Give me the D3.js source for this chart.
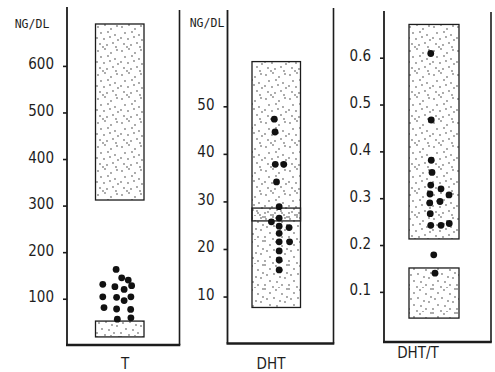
<!DOCTYPE html>
<html>
<head>
<meta charset="utf-8">
<script src="https://cdn.jsdelivr.net/npm/d3@7"></script>
<style>
  html, body { margin: 0; background: #fff; }
  svg text { fill: #1e1e1e; }
</style>
</head>
<body>
<svg id="chart" width="495" height="372"></svg>
<script>
// Testosterone, ng/dl
const tTicks = [100, 200, 300, 400, 500, 600];
const tRanges = [[312, 690], [18, 52]];
const tValues = [163, 145, 140, 131, 128, 126, 120, 104, 103, 104, 96, 81, 78, 77, 56, 59];
const tSpread = [-0.15, 0.08, 0.35, -0.70, 0.49, -0.20, 0.18, -0.70, -0.13, 0.46, 0.18, -0.65, -0.13, 0.45, -0.10, 0.46];

// Dihydrotestosterone, ng/dl
const dhtTicks = [10, 20, 30, 40, 50];
const dhtRanges = [[25.9, 59.4], [7.7, 28.6]];
const dhtValues = [47.3, 44.6, 37.8, 37.8, 34.1, 28.9, 26.5, 25.7, 24.8, 24.5, 23.3, 21.5, 21.5, 19.6, 17.7, 15.6];
const dhtSpread = [-0.08, -0.05, -0.04, 0.31, 0.01, 0.12, 0.12, -0.20, 0.12, 0.53, 0.12, 0.55, 0.12, 0.12, 0.12, 0.12];

// DHT/T ratio
const ratioTicks = [0.1, 0.2, 0.3, 0.4, 0.5, 0.6];
const ratioRanges = [[0.213, 0.671], [0.044, 0.151]];
const ratioValues = [0.609, 0.467, 0.381, 0.355, 0.328, 0.320, 0.309, 0.307, 0.293, 0.290, 0.267, 0.242, 0.242, 0.246, 0.179, 0.140];
const ratioSpread = [-0.13, -0.11, -0.11, -0.08, -0.13, 0.28, -0.16, 0.60, 0.24, -0.17, -0.15, -0.13, 0.28, 0.61, -0.01, 0.04];

const categories = ["T", "DHT", "DHT/T"];
const unitLabel = "NG/DL";

// Layout of the three open frames
const panels = [
  { name: categories[0], ticks: tTicks, ranges: tRanges, values: tValues, spread: tSpread,
    unit: true, fmt: d3.format("d"), domain: [0, 600], yRange: [345.3, 65.9],
    axisX: 67, rightX: 179.5, leftTop: 7, rightTop: 10, bottom: 345,
    box: [95.5, 144], labelPos: [125, 364], unitPos: [32, 24] },
  { name: categories[1], ticks: dhtTicks, ranges: dhtRanges, values: dhtValues, spread: dhtSpread,
    unit: true, fmt: d3.format("d"), domain: [0, 50], yRange: [344.1, 106.3],
    axisX: 227.5, rightX: 333.5, leftTop: 10, rightTop: 8, bottom: 343.5,
    box: [252, 300.5], labelPos: [271, 364], unitPos: [207, 23] },
  { name: categories[2], ticks: ratioTicks, ranges: ratioRanges, values: ratioValues, spread: ratioSpread,
    unit: false, fmt: d3.format(".1f"), domain: [0, 0.6], yRange: [338.7, 57.7],
    axisX: 384, rightX: 491, leftTop: 11, rightTop: 12, bottom: 342,
    box: [409, 459], labelPos: [418, 353] }
];

const svg = d3.select("#chart");
const ink = "#1c1c1c";

// Stipple fills: two tiles with different dot layouts so overlapping ranges read darker
const defs = svg.append("defs");
const stippleA = [[2,3],[9,1],[15,5],[21,2],[5,9],[12,8],[19,11],[1,14],[8,15],[14,13],[22,16],[4,20],[11,21],[17,19],[20,23],[7,23]];
const stippleB = [[1,1],[6,5],[12,2],[18,6],[23,9],[3,11],[10,10],[16,13],[21,14],[6,17],[13,18],[1,21],[9,23],[18,21],[23,1],[15,24]];
[["stipA", stippleA], ["stipB", stippleB]].forEach(([id, pts]) => {
  const p = defs.append("pattern")
    .attr("id", id).attr("patternUnits", "userSpaceOnUse")
    .attr("width", 24).attr("height", 24);
  p.selectAll("circle").data(pts).join("circle")
    .attr("cx", d => d[0]).attr("cy", d => d[1]).attr("r", 0.65)
    .attr("fill", "#111");
});

panels.forEach(p => {
  const g = svg.append("g");
  const y = d3.scaleLinear().domain(p.domain).range(p.yRange);
  const x = d3.scaleLinear().domain([-1, 1]).range(p.box);

  // Reference ranges
  g.selectAll("rect.bg").data(p.ranges).join("rect")
    .attr("class", "bg")
    .attr("x", x(-1)).attr("width", x(1) - x(-1))
    .attr("y", d => y(d[1])).attr("height", d => y(d[0]) - y(d[1]))
    .attr("fill", "#fff");
  g.selectAll("rect.fill").data(p.ranges).join("rect")
    .attr("class", "fill")
    .attr("x", x(-1)).attr("width", x(1) - x(-1))
    .attr("y", d => y(d[1])).attr("height", d => y(d[0]) - y(d[1]))
    .attr("fill", (d, i) => i === 0 ? "url(#stipA)" : "url(#stipB)");
  g.selectAll("rect.edge").data(p.ranges).join("rect")
    .attr("class", "edge")
    .attr("x", x(-1)).attr("width", x(1) - x(-1))
    .attr("y", d => y(d[1])).attr("height", d => y(d[0]) - y(d[1]))
    .attr("fill", "none").attr("stroke", ink).attr("stroke-width", 1.3);

  // Individual measurements
  g.selectAll("circle.obs").data(p.values).join("circle")
    .attr("class", "obs")
    .attr("cx", (d, i) => x(p.spread[i]))
    .attr("cy", d => y(d))
    .attr("r", 3.4)
    .attr("fill", "#111");

  // Frame: axis line, baseline, right rule
  g.append("line").attr("x1", p.axisX).attr("x2", p.axisX)
    .attr("y1", p.leftTop).attr("y2", p.bottom)
    .attr("stroke", ink).attr("stroke-width", 1.8);
  g.append("line").attr("x1", p.rightX).attr("x2", p.rightX)
    .attr("y1", p.rightTop).attr("y2", p.bottom)
    .attr("stroke", ink).attr("stroke-width", 1.6);
  g.append("line").attr("x1", p.axisX - 1).attr("x2", p.rightX + 0.8)
    .attr("y1", p.bottom).attr("y2", p.bottom)
    .attr("stroke", ink).attr("stroke-width", 2.3);

  // Left axis
  const axis = g.append("g")
    .attr("transform", `translate(${p.axisX},0)`)
    .call(d3.axisLeft(y).tickValues(p.ticks).tickFormat(p.fmt)
      .tickSize(4).tickSizeOuter(0).tickPadding(9));
  axis.select(".domain").remove();
  axis.selectAll(".tick line").attr("stroke", ink).attr("stroke-width", 1.6);
  axis.selectAll(".tick text")
    .attr("fill", "#1e1e1e")
    .attr("dy", "0.2em")
    .style("font-family", "'DejaVu Sans Condensed', 'DejaVu Sans', sans-serif")
    .style("font-size", "15px");

  if (p.unit) {
    g.append("text")
      .attr("x", p.unitPos[0]).attr("y", p.unitPos[1])
      .attr("text-anchor", "middle").attr("dy", "0.35em")
      .style("font-family", "'DejaVu Sans Mono', monospace")
      .style("font-size", "11.5px")
      .text(unitLabel);
  }

  // Category label beneath the frame
  g.append("text")
    .attr("x", p.labelPos[0]).attr("y", p.labelPos[1])
    .attr("text-anchor", "middle").attr("dy", "0.35em")
    .style("font-family", "'DejaVu Sans Condensed', 'DejaVu Sans', sans-serif")
    .style("font-size", "15px")
    .text(p.name);
});
</script>
</body>
</html>
